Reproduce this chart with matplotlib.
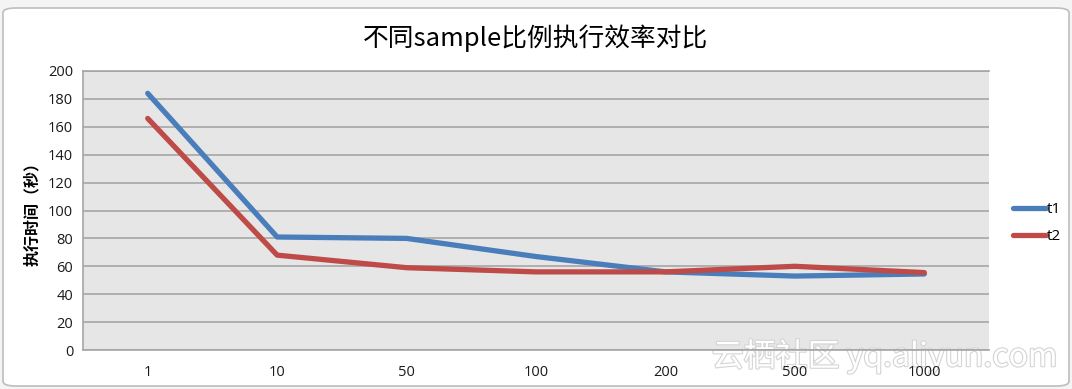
#!/usr/bin/env python3

import numpy as np
import matplotlib
matplotlib.use('Agg')
import matplotlib.pyplot as plt
import matplotlib.patheffects as pe
from matplotlib.patches import FancyBboxPatch

plt.rcParams['font.family'] = ['Open Sans', 'Noto Sans CJK SC', 'DejaVu Sans']

categories = ['1', '10', '50', '100', '200', '500', '1000']
t1 = [184, 81, 80, 67, 56, 53, 54.5]
t2 = [166, 68, 59, 56, 56, 60, 55.5]
yticks = np.arange(0, 201, 20)

title = '不同sample比例执行效率对比'
ylabel = '执行时间（秒）'


def main():
    fig = plt.figure(figsize=(10.72, 3.89), dpi=100)
    fig.patch.set_facecolor('#f4f4f4')

    # chart area frame (Excel-style)
    frame = FancyBboxPatch((3 / 1072, 3 / 389), 1066 / 1072, 378 / 389,
                           boxstyle='round,pad=0,rounding_size=0.012',
                           transform=fig.transFigure, facecolor='white',
                           edgecolor='#bdbdbd', linewidth=1.2, zorder=-10)
    fig.patches.append(frame)

    ax = fig.add_axes([83 / 1072, 39 / 389, 906 / 1072, 279 / 389])
    ax.set_facecolor('#e6e6e6')
    x = np.arange(len(categories))
    ax.plot(x, t1, color='#4a7ebb', linewidth=3.8, solid_capstyle='round',
            label='t1', zorder=3)
    ax.plot(x, t2, color='#be4b48', linewidth=3.8, solid_capstyle='round',
            label='t2', zorder=3)

    ax.set_xlim(-0.5, len(categories) - 0.5)
    ax.set_ylim(0, 200)
    ax.set_yticks(yticks)
    ax.set_xticks(x)
    ax.set_xticklabels(categories)
    ax.yaxis.grid(True, color='#a6a6a6', linewidth=1.2)
    ax.set_axisbelow(True)
    ax.tick_params(length=0, labelsize=10.5, colors='#1a1a1a')
    ax.tick_params(axis='x', pad=11)
    ax.tick_params(axis='y', pad=7)
    for side in ['left', 'bottom', 'top', 'right']:
        ax.spines[side].set_color('#a6a6a6')
        ax.spines[side].set_linewidth(1.2)
    ax.spines['right'].set_visible(False)

    ax.set_ylabel(ylabel, fontsize=11.5, fontweight='bold',
                  family=['Noto Sans CJK SC', 'DejaVu Sans'], labelpad=6)

    fig.text(0.5, 351 / 389, title, ha='center', va='center', fontsize=18.5,
             family=['Noto Sans CJK SC', 'DejaVu Sans'])

    fig.legend(loc='center left', bbox_to_anchor=(999 / 1072, 166 / 389),
               frameon=False, fontsize=11, handlelength=2.2,
               handletextpad=0.05, labelspacing=0.8)

    # watermark, kept under the tick labels so they stay readable
    ax.text(1058 / 1072, 33 / 389, '云栖社区 yq.aliyun.com', ha='right',
            va='center', fontsize=23, color='white',
            family=['Noto Sans CJK SC', 'DejaVu Sans'], zorder=0.3,
            transform=fig.transFigure, clip_on=False,
            path_effects=[pe.withStroke(linewidth=1.6, foreground='#d4d4d4')])

    fig.savefig('out.png', dpi=100)


if __name__ == '__main__':
    main()
